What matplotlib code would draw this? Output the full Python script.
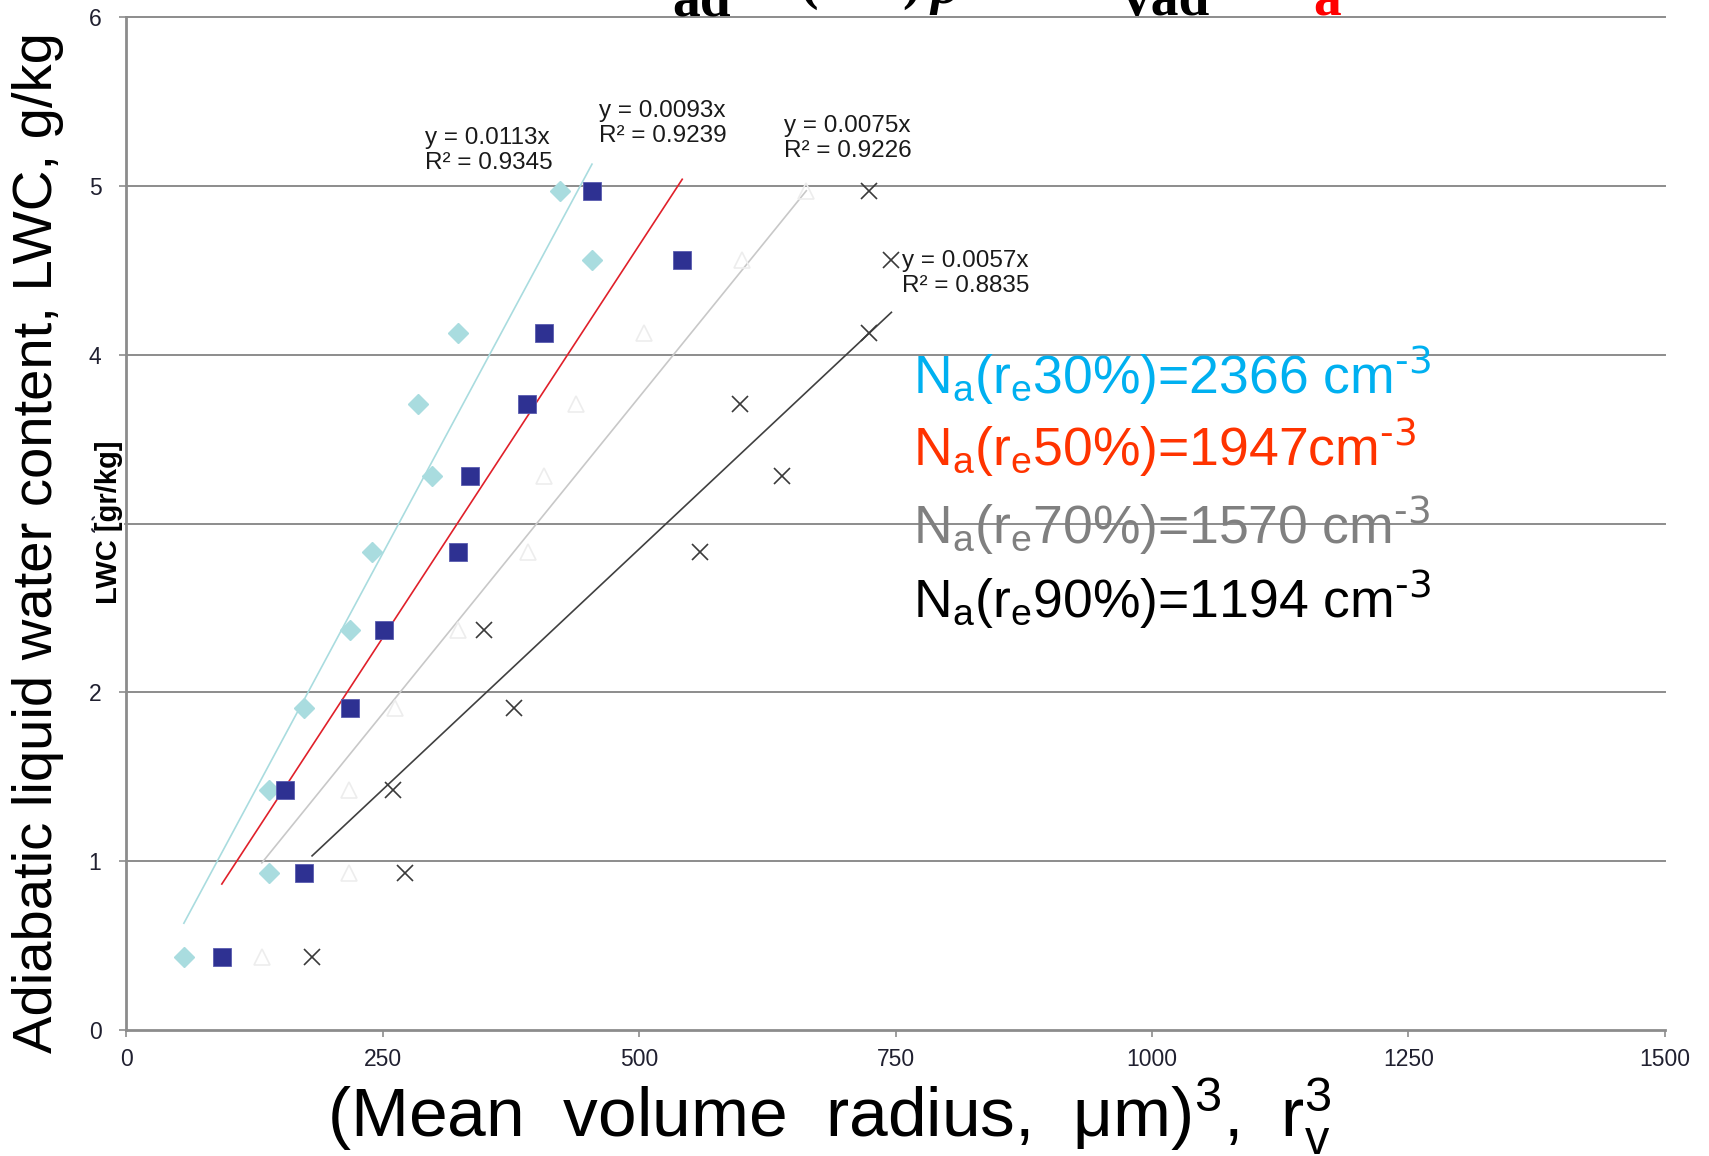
import numpy as np
import matplotlib.pyplot as plt

plt.rcParams.update({
    'font.family': ['Liberation Sans', 'DejaVu Sans'],
    'mathtext.default': 'regular',
})

# LWC levels (g/kg), shared by the four series
lwc = [0.43, 0.93, 1.42, 1.91, 2.37, 2.83, 3.28, 3.71, 4.13, 4.56, 4.97]

# r_v^3 for each effective-radius percentile
r3_30 = [56, 139, 139, 173, 218, 239, 298, 284, 323, 454, 423]
r3_50 = [93, 173, 155, 218, 251, 323, 335, 391, 407, 542, 454]
r3_70 = [132, 217, 217, 262, 323, 392, 407, 438, 505, 600, 663]
r3_90 = [181, 272, 260, 378, 349, 559, 639, 598, 724, 746, 724]

# trendline fits (y = slope * x)
slopes = [0.0113, 0.0093, 0.0075, 0.0057]
r2 = [0.9345, 0.9239, 0.9226, 0.8835]

na_labels = [r'N$_a$(r$_e$30%)=2366 cm$^{\text{-3}}$',
             r'N$_a$(r$_e$50%)=1947cm$^{\text{-3}}$',
             r'N$_a$(r$_e$70%)=1570 cm$^{\text{-3}}$',
             r'N$_a$(r$_e$90%)=1194 cm$^{\text{-3}}$']

xticks = [0, 250, 500, 750, 1000, 1250, 1500]
yticks = [0, 1, 2, 3, 4, 5, 6]

fig = plt.figure(figsize=(17.09, 11.56), dpi=100)
ax = fig.add_axes([0.074, 0.109, 0.900, 0.876])
ax.set_xlim(0, 1500)
ax.set_ylim(0, 6)

for yv in yticks[1:]:
    ax.axhline(yv, color='#8C8C8C', lw=1.4, clip_on=False, zorder=0)

series = [
    (r3_30, dict(marker='D', ms=10, color='#A9DCDF', mec='#A9DCDF', ls='none')),
    (r3_50, dict(marker='s', ms=13.5, color='#2E3192', mec='#5a5cb0', mew=0.6, ls='none')),
    (r3_70, dict(marker='^', ms=12, mfc='none', mec='#EDEDED', mew=1.2, ls='none')),
    (r3_90, dict(marker='x', ms=12, color='#3a3a3a', mew=1.2, ls='none')),
]
line_colors = ['#A9DCDF', '#E0202A', '#C8C8C8', '#404040']

for (xs, style), m, lc in zip(series, slopes, line_colors):
    ax.plot(xs, lwc, zorder=3, **style)
    xr = np.array([min(xs), max(xs)])
    ax.plot(xr, m * xr, color=lc, lw=1.2, zorder=2)

# trendline equations
eq_pos = [(291, 5.35), (461, 5.51), (641, 5.42), (756, 4.62)]
for (ex, ey), m, r in zip(eq_pos, slopes, r2):
    ax.text(ex, ey, f'y = {m:.4f}x\nR² = {r:.4f}', ha='left', va='top',
            fontsize=17.5, color='#1a1a1a', linespacing=1.15)

na_colors = ['#00B0F0', '#FF3300', '#808080', '#000000']
na_y = [3.77, 3.34, 2.88, 2.44]
for lab, c, yv in zip(na_labels, na_colors, na_y):
    ax.text(767, yv, lab, color=c, fontsize=38.5, ha='left', va='baseline')

# axes styling
for s in ['top', 'right']:
    ax.spines[s].set_visible(False)
for s in ['left', 'bottom']:
    ax.spines[s].set_color('#8C8C8C')
    ax.spines[s].set_linewidth(2)
ax.set_xticks(xticks)
ax.set_yticks(yticks)
ax.tick_params(axis='both', direction='out', length=5, width=1.2, color='#8C8C8C',
               labelcolor='#202030', labelsize=16.5)
ax.tick_params(axis='x', pad=8)
ax.tick_params(axis='y', pad=13)

ax.set_xlabel(r'(Mean  volume  radius,  μm)$^3$,  r$_v^3$', fontsize=50)
ax.xaxis.set_label_coords(0.457, -0.046)
fig.text(0.022, 0.531, 'Adiabatic liquid water content, LWC, g/kg', rotation=90,
         ha='center', va='center', fontsize=40.5)
fig.text(0.064, 0.548, 'LWC [gr/kg]', rotation=90, ha='center', va='center',
         fontsize=21, fontweight='bold',
         bbox=dict(facecolor='white', edgecolor='none', pad=0.5))

# clipped equation at the top edge (only its lowest parts show)
top_kw = dict(family=['Liberation Serif', 'DejaVu Serif'], fontweight='bold',
              fontsize=40, va='baseline')
fig.text(672 / 1709, 1 - 15 / 1156, 'ad', **top_kw)
fig.text(800 / 1709, 1 + 2 / 1156, '(', **top_kw)
fig.text(902 / 1709, 1 + 2 / 1156, ')', **top_kw)
fig.text(930 / 1709, 1 - 3 / 1156, 'ρ', style='italic', **top_kw)
fig.text(1123 / 1709, 1 - 15 / 1156, 'vad', **top_kw)
fig.text(1313 / 1709, 1 - 15 / 1156, 'a', color='#FF0000', **top_kw)

fig.savefig('out.png', dpi=100)
